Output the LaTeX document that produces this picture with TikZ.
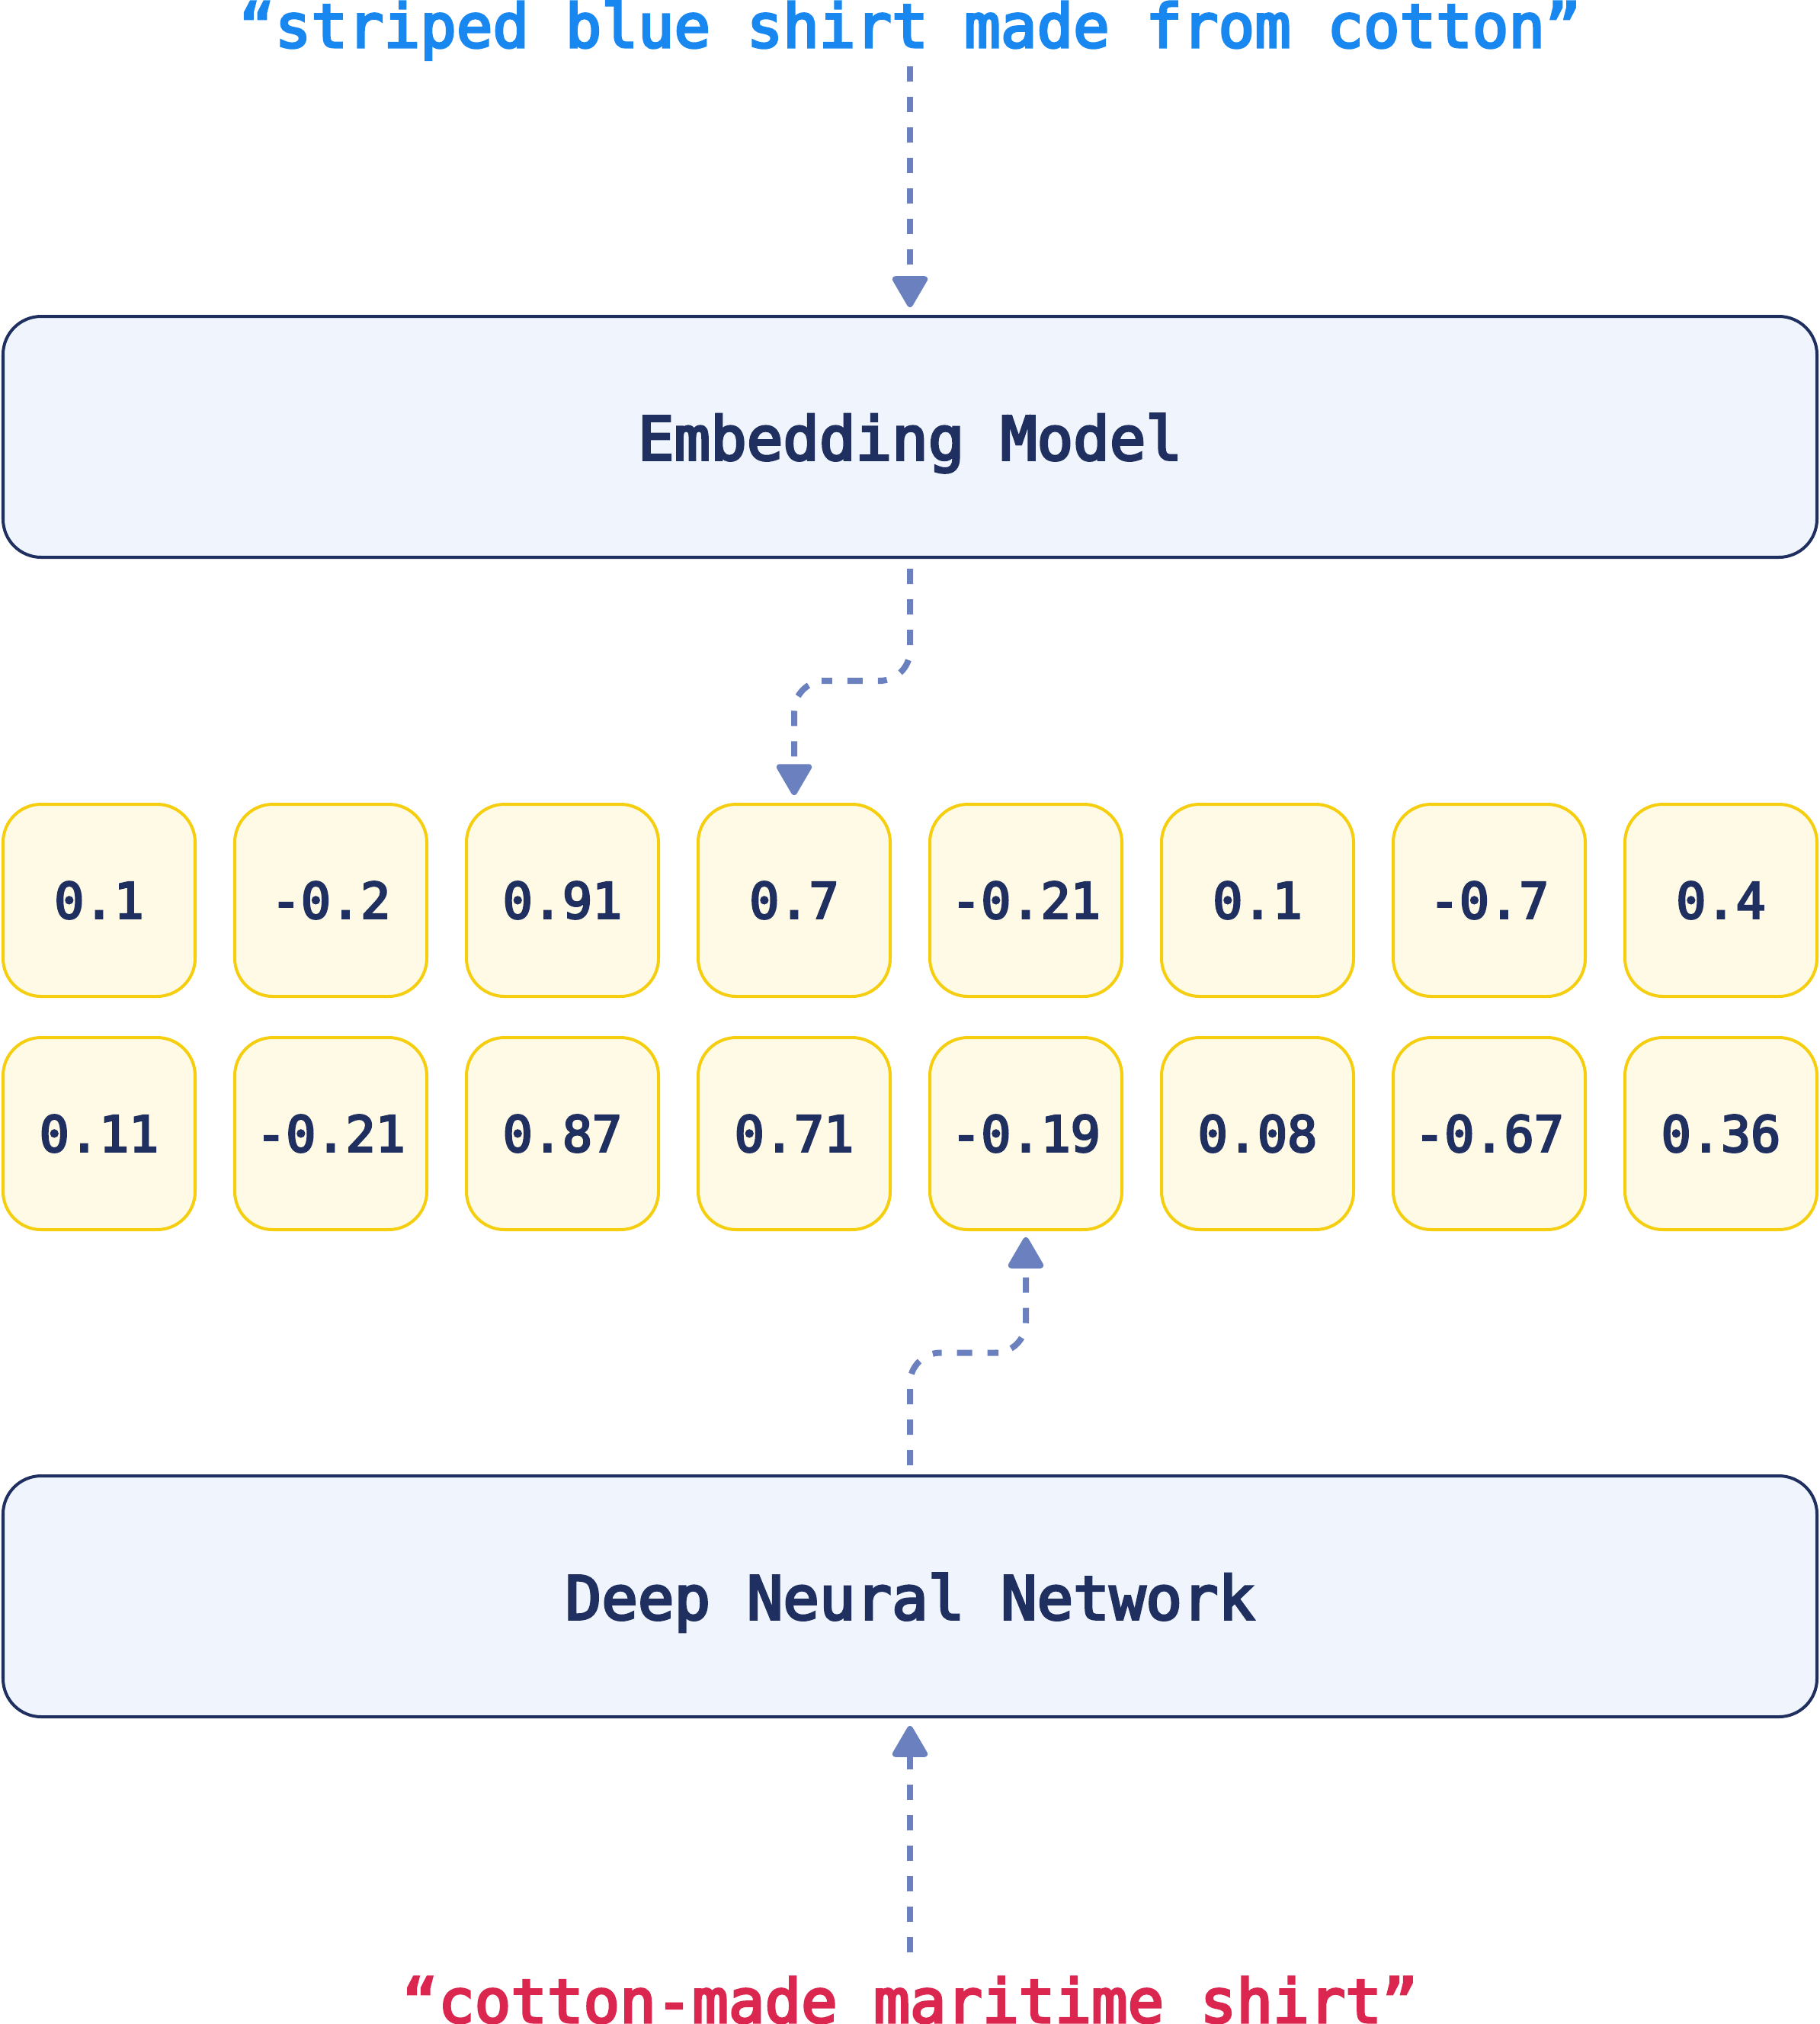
\documentclass[tikz,border=0pt]{standalone}
\usepackage{fontspec}
\setmonofont{DejaVu Sans Mono}
\newfontfamily\labelfont{DejaVu Sans Mono}[FakeBold=4]
\usepackage{tikz}
\usetikzlibrary{calc,arrows.meta}
\definecolor{navy}{RGB}{31,47,95}
\definecolor{modelfill}{RGB}{240,245,253}
\definecolor{valfill}{RGB}{255,250,229}
\definecolor{valdraw}{RGB}{245,207,15}
\definecolor{arrowblue}{RGB}{107,129,191}
\definecolor{quoteblue}{RGB}{24,136,240}
\definecolor{quotered}{RGB}{219,39,79}

\begin{document}
\begin{tikzpicture}[every node/.style={font=\labelfont},
	model/.style={draw=navy, fill=modelfill, line width=1.14pt, rounded corners=0.5cm, minimum width=23.8cm, minimum height=3.16cm, text depth=0pt, text=navy, font=\labelfont\fontsize{22.5}{27}\selectfont},
	val/.style={draw=valdraw, fill=valfill, line width=1.14pt, rounded corners=0.5cm, minimum size=2.52cm, text=navy, font=\labelfont\fontsize{18.5}{22}\selectfont},
	quote/.style={inner sep=0pt, anchor=base, font=\labelfont\fontsize{22.5}{27}\selectfont},
	flow/.style={draw=arrowblue, line width=2.28pt, dash pattern=on 0.2cm off 0.2cm, rounded corners=0.4cm, -{Triangle[round,width=0.5cm,length=0.45cm]}}]
	
	\useasboundingbox (0,0) rectangle (23.88,-26.55);
	
	\node[quote, text=quoteblue] (query) at (11.94,-0.62) {“striped blue shirt made from cotton”};
	\node[model] (embed) at (11.94,-5.73) {Embedding Model};
	
	\node[val] (a1) at (1.30,-11.81) {0.1};
	\node[val] (a2) at (4.34,-11.81) {-0.2};
	\node[val] (a3) at (7.38,-11.81) {0.91};
	\node[val] (a4) at (10.42,-11.81) {0.7};
	\node[val] (a5) at (13.46,-11.81) {-0.21};
	\node[val] (a6) at (16.50,-11.81) {0.1};
	\node[val] (a7) at (19.54,-11.81) {-0.7};
	\node[val] (a8) at (22.58,-11.81) {0.4};
	
	\node[val] (b1) at (1.30,-14.87) {0.11};
	\node[val] (b2) at (4.34,-14.87) {-0.21};
	\node[val] (b3) at (7.38,-14.87) {0.87};
	\node[val] (b4) at (10.42,-14.87) {0.71};
	\node[val] (b5) at (13.46,-14.87) {-0.19};
	\node[val] (b6) at (16.50,-14.87) {0.08};
	\node[val] (b7) at (19.54,-14.87) {-0.67};
	\node[val] (b8) at (22.58,-14.87) {0.36};
	
	\node[model] (dnn) at (11.94,-20.94) {Deep Neural Network};
	\node[quote, text=quotered] (answer) at (11.94,-26.53) {“cotton-made maritime shirt”};
	
	%edges
	\draw[flow, shorten <=0.08cm, shorten >=0.1cm] (query) -- (embed);
	\draw[flow, shorten <=0.13cm, shorten >=0.1cm] (embed.south) |- ($(embed.south)!.5!(a4.north)$) -| (a4.north);
	\draw[flow, shorten <=0.12cm, shorten >=0.08cm] (dnn.north) |- ($(dnn.north)!.5!(b5.south)$) -| (b5.south);
	\draw[flow, shorten <=0.31cm, shorten >=0.1cm] (answer) -- (dnn);
	
\end{tikzpicture}
\end{document}
